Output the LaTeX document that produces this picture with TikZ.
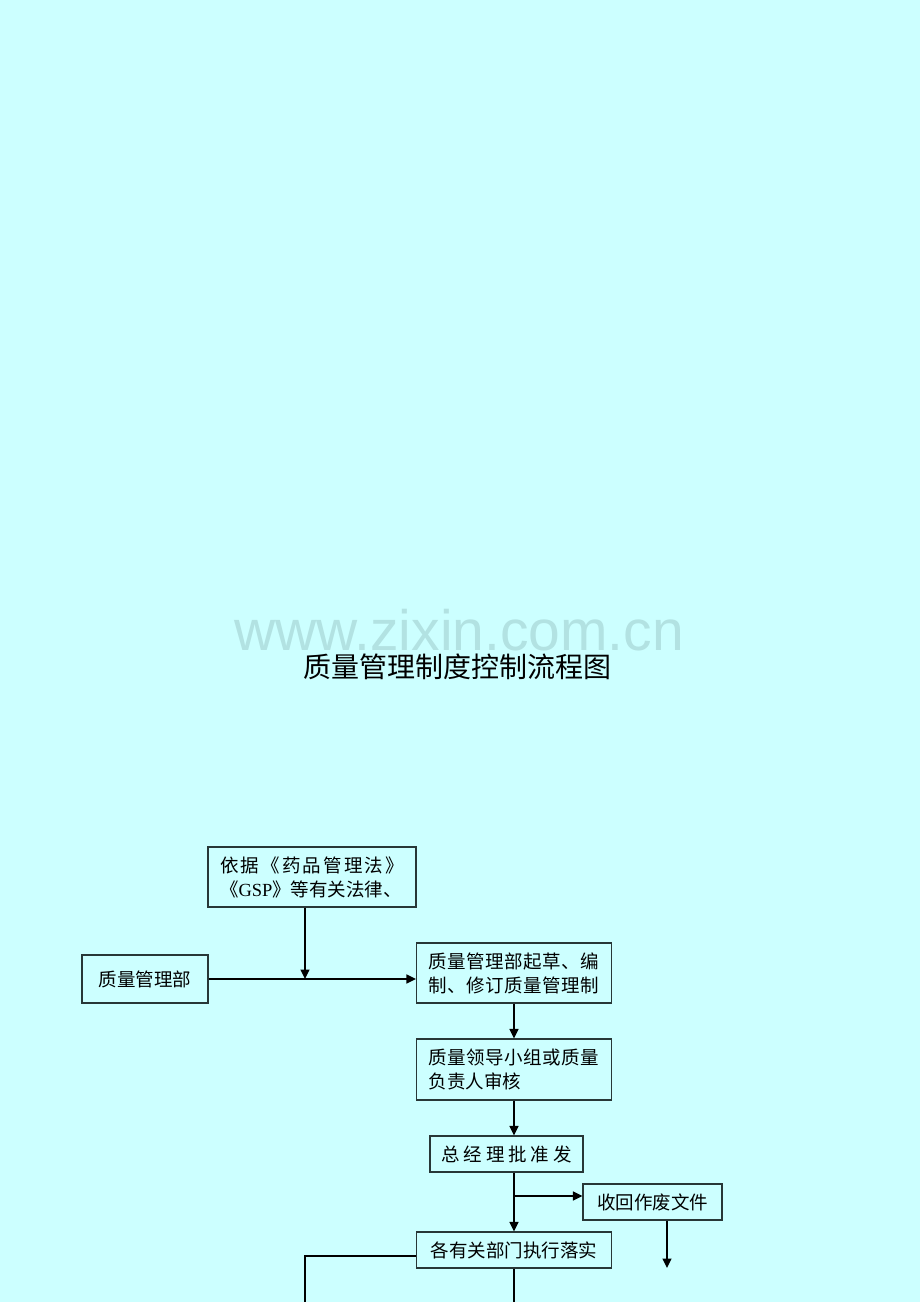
\documentclass[tikz,border=0pt]{standalone}
\usepackage{fontspec}
\setmainfont{Noto Sans CJK SC}
\newfontfamily\latinserif{Liberation Serif}
\newfontfamily\wmfont{Liberation Sans}
\usetikzlibrary{arrows.meta}
\definecolor{bgc}{RGB}{204,255,255}
\definecolor{wmc}{RGB}{178,226,226}
\definecolor{boxline}{RGB}{40,55,55}
\begin{document}
\begin{tikzpicture}[x=1pt,y=-1pt,
  box/.style={draw=boxline,line width=1.2pt,inner sep=0pt,align=left,font=\fontsize{18.5}{24}\selectfont},
  arr/.style={line width=1.5pt,-{Triangle[length=9.5pt,width=9pt]}},
  ln/.style={line width=1.5pt}]
\fill[bgc] (0,0) rectangle (920,1302);
\useasboundingbox (0,0) rectangle (920,1302);
\node[anchor=base west,text=wmc,font=\wmfont\fontsize{57}{60}\selectfont,inner sep=0pt] (wm) at (234,650) {www.zixin.com.cn};
\node[font=\fontsize{28}{32}\selectfont,inner sep=0pt] (title) at (457.5,667) {质量管理制度控制流程图};
\node[box,minimum width=208pt,minimum height=60pt,text width=184pt] (A) at (312,877)
  {\makebox[184pt][s]{依\hfill 据\hfill 《\hfill 药\hfill 品\hfill 管\hfill 理\hfill 法\hfill 》}\\《{\latinserif GSP}》等有关法律、};
\node[box,minimum width=126pt,minimum height=48pt] (B) at (145,979) {质量管理部};
\node[box,minimum width=195pt,minimum height=60pt,text width=171pt] (C) at (514,973)
  {\makebox[171pt][s]{质\hfill 量\hfill 管\hfill 理\hfill 部\hfill 起\hfill 草\hfill 、\hfill 编}\\\makebox[171pt][s]{制\hfill 、\hfill 修\hfill 订\hfill 质\hfill 量\hfill 管\hfill 理\hfill 制}};
\node[box,minimum width=195pt,minimum height=61pt,text width=171pt] (D) at (514,1069.5)
  {\makebox[171pt][s]{质\hfill 量\hfill 领\hfill 导\hfill 小\hfill 组\hfill 或\hfill 质\hfill 量}\\负责人审核};
\node[box,minimum width=153pt,minimum height=36pt] (E) at (506.5,1154)
  {\makebox[130pt][s]{总\hfill 经\hfill 理\hfill 批\hfill 准\hfill 发}};
\node[box,minimum width=139pt,minimum height=36pt] (F) at (652.5,1202) {收回作废文件};
\node[box,minimum width=195pt,minimum height=36pt] (G) at (514,1250) {各有关部门执行落实};
\coordinate (j) at (305,979);
\coordinate (br) at (514,1196);
\coordinate (fd) at (667,1268);
\coordinate (gl) at (305,1256);
\coordinate (gle) at (305,1302);
\coordinate (gb) at (514,1302);
\draw[arr] (A.south -| j) -- (j);
\draw[arr] (B.east) -- (B.east -| C.west);
\draw[arr] (C.south) -- (D.north);
\draw[arr] (D.south) -- (D.south |- E.north);
\draw[arr] (E.south -| G.north) -- (G.north);
\draw[arr] (br) -- (br -| F.west);
\draw[arr] (F.south -| fd) -- (fd);
\draw[ln] (G.west |- gl) -- (gl) -- (gle);
\draw[ln] (G.south) -- (gb);
\end{tikzpicture}
\end{document}
